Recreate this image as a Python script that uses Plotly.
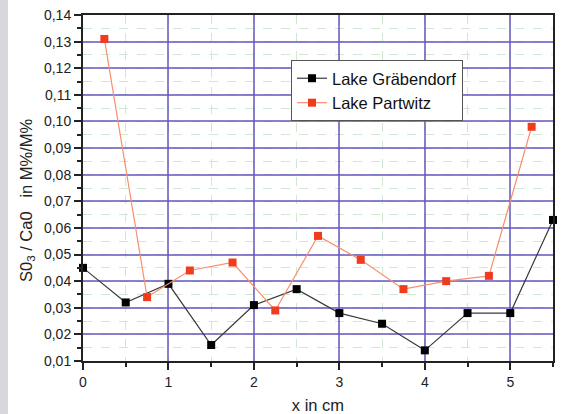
import plotly.graph_objects as go

x_grab = [0, 0.5, 1, 1.5, 2, 2.5, 3, 3.5, 4, 4.5, 5, 5.5]
y_grab = [0.045, 0.032, 0.039, 0.016, 0.031, 0.037, 0.028, 0.024, 0.014, 0.028, 0.028, 0.063]
x_part = [0.25, 0.75, 1.25, 1.75, 2.25, 2.75, 3.25, 3.75, 4.25, 4.75, 5.25]
y_part = [0.131, 0.034, 0.044, 0.047, 0.029, 0.057, 0.048, 0.037, 0.040, 0.042, 0.098]
y_ticks = [0.01, 0.02, 0.03, 0.04, 0.05, 0.06, 0.07, 0.08, 0.09, 0.10, 0.11, 0.12, 0.13, 0.14]
y_ticklabels = ["0,01", "0,02", "0,03", "0,04", "0,05", "0,06", "0,07", "0,08", "0,09", "0,10", "0,11", "0,12", "0,13", "0,14"]
x_ticks = [0, 1, 2, 3, 4, 5]

PW, PH = 470, 346  # plot area size in px

fig = go.Figure()
fig.add_trace(go.Scatter(x=x_grab, y=y_grab, mode="lines+markers", name="Lake Gräbendorf",
                         line=dict(color="#3a3a3a", width=1.2),
                         marker=dict(symbol="square", size=8, color="#000000"), cliponaxis=False))
fig.add_trace(go.Scatter(x=x_part, y=y_part, mode="lines+markers", name="Lake Partwitz",
                         line=dict(color="#f7906a", width=1.2),
                         marker=dict(symbol="square", size=8, color="#f03c1c"), cliponaxis=False))

fig.update_layout(
    width=571, height=414,
    margin=dict(l=83, r=18, t=15, b=53, autoexpand=False),
    paper_bgcolor="white", plot_bgcolor="white",
    font=dict(family="Liberation Sans, Arial, sans-serif", size=14, color="#222"),
    showlegend=True,
    legend=dict(x=(291 - 83) / PW, y=(361 - 60) / PH, xanchor="left", yanchor="top",
                bgcolor="white", bordercolor="#555", borderwidth=1,
                font=dict(size=16.5, color="#111"), tracegroupgap=0,
                itemwidth=30),
    shapes=[dict(type="rect", xref="paper", yref="paper", x0=-83 / PW, x1=-75 / PW, y0=-53 / PH, y1=1 + 15 / PH,
                 fillcolor="#d8d8dc", line=dict(width=0), layer="below")],
    annotations=[dict(text="S0<sub>3</sub> / Ca0   in M%/M%", textangle=-90, showarrow=False,
                      xref="paper", yref="paper", x=(27 - 83) / PW, y=(361 - 200) / PH,
                      xanchor="center", yanchor="middle", font=dict(size=16.5, color="#222"))],
)
fig.update_xaxes(range=[0, 5.5], tickvals=x_ticks, ticktext=[str(v) for v in x_ticks],
                 ticks="outside", ticklen=7, tickwidth=1.5, tickcolor="#222", automargin=False,
                 showline=True, linecolor="#222", linewidth=2, mirror=True,
                 showgrid=True, gridcolor="rgba(100,85,190,0.75)", gridwidth=1.5,
                 minor=dict(dtick=0.5, tick0=0, showgrid=True, gridcolor="#cfe8cf", griddash="dash", gridwidth=1,
                            ticks="outside", ticklen=4, tickcolor="#222"),
                 title=dict(text="x in cm", font=dict(size=16.5), standoff=11),
                 zeroline=False)
fig.update_yaxes(range=[0.01, 0.14], tickvals=y_ticks, ticktext=y_ticklabels,
                 ticks="outside", ticklen=7, tickwidth=1.5, tickcolor="#222", automargin=False,
                 showline=True, linecolor="#222", linewidth=2, mirror=True,
                 showgrid=True, gridcolor="rgba(100,85,190,0.75)", gridwidth=1.5,
                 minor=dict(dtick=0.005, tick0=0.01, showgrid=True, gridcolor="#cfe8cf", griddash="dash", gridwidth=1,
                            ticks="outside", ticklen=4, tickcolor="#222"),
                 zeroline=False)

fig.write_html("out.html", config={"displayModeBar": False},
               post_script="document.body.style.margin='0';")
